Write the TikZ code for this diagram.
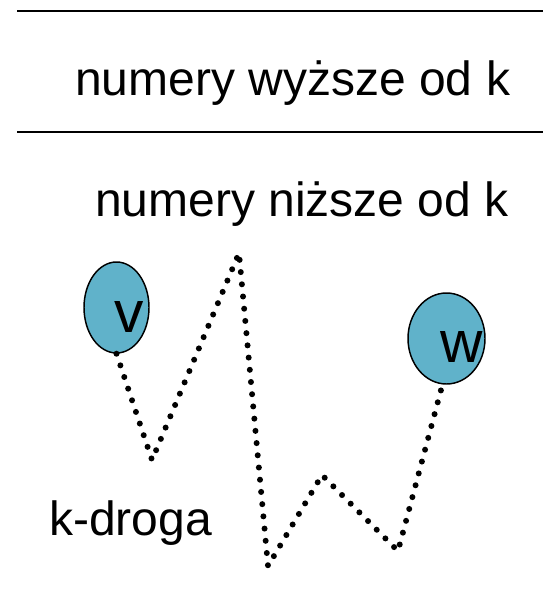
\documentclass[tikz,border=0pt]{standalone}
\usepackage{fontspec}
\setmainfont{Liberation Sans}
\usepackage{tikz}
\usetikzlibrary{shapes.geometric}
\definecolor{vertblue}{RGB}{96,178,202}
\tikzset{
  rule/.style={line width=1.5pt, black},
  zone/.style={font=\fontsize{36}{40}\selectfont, inner sep=0pt, anchor=base west},
  vert/.style={ellipse, draw=black, line width=1.1pt, fill=vertblue, inner sep=0pt},
  vlbl/.style={font=\fontsize{44}{48}\selectfont, inner sep=0pt, anchor=base},
  kpath/.style={line width=4.5pt, line cap=round, dash pattern=on 0pt off 9.2pt}
}

\begin{document}
\begin{tikzpicture}[x=0.75pt, y=-0.75pt]
\useasboundingbox (0,0) rectangle (543,598);
\draw[rule] (17,11) -- (543,11);
\draw[rule] (17,132) -- (543,132);
\node[zone] (high) at (75,96) {numery wyższe od k};
\node[zone] (low) at (95,217) {numery niższe od k};
\node[zone] (kdr) at (49,535) {k-droga};
\node[vert, minimum width=48.75pt, minimum height=68.25pt] (v) at (116.5,307.5) {};
\node[vert, minimum width=57.75pt, minimum height=68.25pt] (w) at (446.5,338.5) {};
\node[vlbl] (vl) at (129.5,332) {v};
\node[vlbl] (wl) at (461.5,362) {w};
\coordinate (p1) at (152,460);
\coordinate (p2) at (239,253);
\coordinate (p3) at (268,566);
\coordinate (p4) at (322,475);
\coordinate (p5) at (398,551);
\draw[kpath] (v.south) -- (p1) -- (p2) -- (p3) -- (p4) -- (p5) -- (w.265);
\end{tikzpicture}
\end{document}
